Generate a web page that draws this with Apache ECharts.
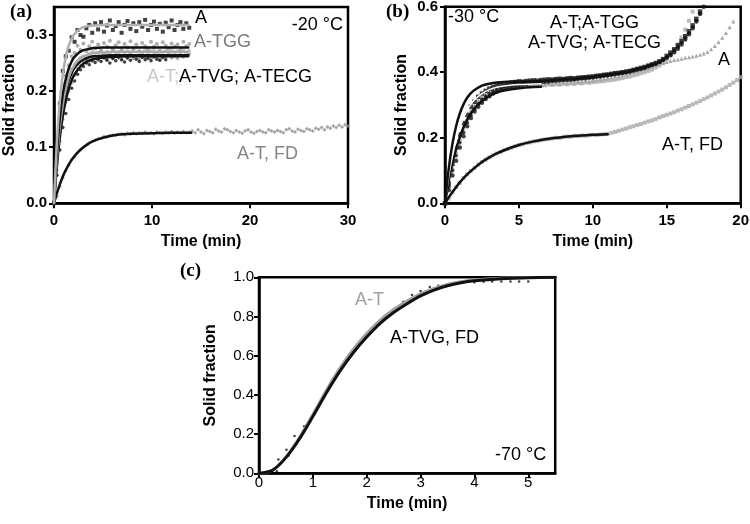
<!DOCTYPE html>
<html><head><meta charset="utf-8">
<script src="https://cdn.jsdelivr.net/npm/echarts@6/dist/echarts.min.js"></script>
<style>html,body{margin:0;padding:0;background:#fff}#c{width:750px;height:524px}</style>
</head><body><div id="c"></div>
<script>
// ---------- Panel (a): -20 °C ----------
const tA = [0,0.3,0.6,0.9,1.2,1.5,1.8,2.1,2.4,2.7,
 3,3.3,3.6,3.9,4.2,4.5,4.8,5.1,5.4,5.7,
 6,6.3,6.6,6.9,7.2,7.5,7.8,8.1,8.4,8.7,
 9,9.3,9.6,9.9,10.2,10.5,10.8,11.1,11.4,11.7,
 12,12.3,12.6,12.9,13.2,13.5,13.8,14.1,14.4,14.7,
 15,15.3,15.6,15.9,16.2,16.5,16.8,17.1,17.4,17.7,
 18,18.3,18.6,18.9,19.2,19.5,19.8,20.1,20.4,20.7,
 21,21.3,21.6,21.9,22.2,22.5,22.8,23.1,23.4,23.7,
 24,24.3,24.6,24.9,25.2,25.5,25.8,26.1,26.4,26.7,
 27,27.3,27.6,27.9,28.2,28.5,28.8,29.1,29.4,29.7,
 30];
const a_A = [0,0.112,0.178,0.236,0.262,0.272,0.296,0.288,0.309,0.300,
 0.297,0.312,0.318,0.304,0.321,0.310,0.323,0.306,0.317,0.326,
 0.309,0.316,0.323,0.304,0.318,0.325,0.311,0.321,0.307,0.323,
 0.315,0.327,0.309,0.318,0.324,0.311,0.320,0.306,0.322,0.314,
 0.326,0.309,0.318,0.323,0.311,0.321,0.313];
const a_TGG = [0,0.085,0.150,0.196,0.228,0.246,0.262,0.268,0.281,0.274,
 0.285,0.271,0.280,0.288,0.276,0.283,0.272,0.286,0.279,0.290,
 0.275,0.282,0.287,0.273,0.284,0.278,0.289,0.276,0.283,0.271,
 0.286,0.280,0.274,0.288,0.279,0.284,0.272,0.287,0.281,0.276,
 0.285,0.279,0.283,0.274,0.288,0.280,0.284];
const a_T = [0,0.070,0.128,0.172,0.205,0.222,0.238,0.247,0.252,0.259,
 0.262,0.258,0.266,0.270,0.262,0.268,0.273,0.264,0.270,0.266,
 0.274,0.263,0.269,0.272,0.265,0.271,0.267,0.275,0.263,0.270,
 0.268,0.273,0.265,0.271,0.276,0.266,0.270,0.264,0.272,0.268,
 0.274,0.266,0.271,0.269,0.275,0.267,0.272];
const a_TVG = [0,0.050,0.095,0.135,0.160,0.185,0.205,0.218,0.230,0.238,
 0.244,0.250,0.247,0.254,0.251,0.257,0.253,0.259,0.255,0.250,
 0.258,0.254,0.261,0.256,0.252,0.259,0.255,0.262,0.257,0.253,
 0.260,0.256,0.258,0.254,0.261,0.257,0.255,0.260,0.256];
const a_TECG = [0,0.060,0.110,0.150,0.180,0.200,0.215,0.228,0.240,0.246,
 0.250,0.256,0.252,0.259,0.262,0.255,0.260,0.264,0.257,0.262,
 0.258,0.265,0.259,0.256,0.263,0.260,0.266,0.258,0.262,0.257,
 0.264,0.260,0.263,0.258,0.265,0.261,0.257,0.264,0.260,0.266,
 0.259,0.262,0.258,0.265,0.261,0.263,0.266];
const a_FD = [0,0.012,0.030,0.045,0.058,0.068,0.078,0.083,0.090,0.096,
 0.100,0.104,0.108,0.110,0.113,0.115,0.116,0.119,0.118,0.121,
 0.122,0.121,0.123,0.124,0.122,0.125,0.124,0.126,0.124,0.126,
 0.125,0.127,0.125,0.126,0.124,0.127,0.126,0.125,0.127,0.126,
 0.128,0.125,0.127,0.126,0.128,0.126,0.127,0.129,0.126,0.131,
 0.127,0.124,0.130,0.128,0.126,0.132,0.129,0.127,0.133,0.131,
 0.128,0.126,0.130,0.127,0.125,0.129,0.131,0.127,0.125,0.128,
 0.130,0.127,0.126,0.131,0.129,0.127,0.130,0.128,0.126,0.131,
 0.133,0.129,0.127,0.132,0.130,0.128,0.133,0.131,0.129,0.134,
 0.132,0.135,0.131,0.136,0.134,0.138,0.135,0.139,0.136,0.140,
 0.138];
const tFitA = [0,0.25,0.5,0.75,1,1.25,1.5,1.75,2,2.5,3,3.5,4,5,6,8,10,12,13.7];
const fitA_A    = [0,0.095,0.162,0.209,0.242,0.265,0.281,0.292,0.300,0.309,0.314,0.316,0.317,0.318,0.318,0.318,0.318,0.318,0.318];
const fitA_TGG  = [0,0.079,0.135,0.176,0.205,0.225,0.240,0.251,0.259,0.268,0.273,0.275,0.277,0.278,0.278,0.278,0.278,0.278,0.278];
const fitA_T    = [0,0.069,0.120,0.158,0.187,0.208,0.224,0.236,0.244,0.256,0.262,0.265,0.268,0.269,0.270,0.270,0.270,0.270,0.270];
const fitA_TVG  = [0,0.058,0.103,0.138,0.166,0.187,0.204,0.217,0.227,0.240,0.249,0.254,0.257,0.260,0.261,0.262,0.262,0.262,0.262];
const fitA_TECG = [0,0.067,0.117,0.155,0.183,0.203,0.219,0.230,0.239,0.250,0.256,0.260,0.262,0.263,0.264,0.264,0.264,0.264,0.264];
const tFitAFD = [0,0.25,0.5,0.75,1,1.5,2,2.5,3,3.5,4,5,6,7,8,10,12,14];
const fitA_FD   = [0,0.0155,0.029,0.041,0.052,0.069,0.082,0.092,0.100,0.106,0.111,0.117,0.121,0.123,0.124,0.125,0.126,0.126];

// ---------- Panel (b): -30 °C ----------
const tB = [0,0.25,0.5,0.75,1,1.25,1.5,1.75,2,2.25,
 2.5,2.75,3,3.25,3.5,3.75,4,4.25,4.5,4.75,
 5,5.25,5.5,5.75,6,6.25,6.5,6.75,7,7.25,
 7.5,7.75,8,8.25,8.5,8.75,9,9.25,9.5,9.75,
 10,10.25,10.5,10.75,11,11.25,11.5,11.75,12,12.25,
 12.5,12.75,13,13.25,13.5,13.75,14,14.25,14.5,14.75,
 15,15.25,15.5,15.75,16,16.25,16.5,16.75,17,17.25,
 17.5,17.75,18,18.25,18.5,18.75,19,19.25,19.5,19.75,
 20];
const b_TGG = [0,0.06,0.12,0.17,0.21,0.245,0.27,0.295,0.31,0.325,
 0.335,0.343,0.35,0.355,0.36,0.362,0.365,0.367,0.369,0.37,
 0.372,0.371,0.373,0.374,0.375,0.374,0.376,0.377,0.378,0.377,
 0.379,0.38,0.379,0.381,0.382,0.381,0.383,0.384,0.385,0.386,
 0.387,0.389,0.39,0.392,0.393,0.395,0.397,0.398,0.40,0.402,
 0.404,0.407,0.41,0.413,0.416,0.42,0.424,0.428,0.433,0.44,
 0.45,0.46,0.47,0.482,0.495,0.51,0.525,0.543,0.563,0.585,
 0.608];
const b_TVG = [0,0.04,0.085,0.13,0.17,0.205,0.235,0.26,0.28,0.295,
 0.307,0.318,0.327,0.335,0.341,0.346,0.35,0.353,0.356,0.358,
 0.36,0.362,0.364,0.366,0.367,0.368,0.37,0.371,0.372,0.373,
 0.374,0.375,0.376,0.376,0.377,0.378,0.38,0.381,0.382,0.383,
 0.384,0.386,0.387,0.389,0.39,0.392,0.394,0.396,0.398,0.40,
 0.402,0.405,0.408,0.411,0.414,0.418,0.422,0.426,0.431,0.437,
 0.444,0.452,0.461,0.472,0.485,0.50,0.516,0.534,0.555,0.578,
 0.60];
const b_TECG = [0,0.05,0.10,0.145,0.185,0.215,0.245,0.268,0.288,0.303,
 0.317,0.327,0.336,0.343,0.349,0.354,0.357,0.36,0.362,0.364,
 0.366,0.367,0.369,0.37,0.371,0.372,0.373,0.374,0.375,0.376,
 0.377,0.378,0.378,0.379,0.38,0.381,0.382,0.383,0.384,0.385,
 0.386,0.388,0.389,0.391,0.392,0.394,0.396,0.397,0.399,0.401,
 0.403,0.406,0.409,0.412,0.415,0.419,0.423,0.427,0.432,0.438,
 0.447,0.456,0.466,0.477,0.49,0.505,0.52,0.538,0.558,0.58,
 0.603];
const b_T = [0,0.05,0.10,0.15,0.19,0.22,0.25,0.275,0.29,0.305,
 0.315,0.325,0.333,0.34,0.345,0.349,0.352,0.355,0.357,0.358,
 0.36,0.359,0.361,0.36,0.362,0.358,0.361,0.36,0.363,0.361,
 0.363,0.362,0.365,0.363,0.366,0.364,0.367,0.366,0.369,0.368,
 0.37,0.371,0.372,0.373,0.375,0.376,0.378,0.38,0.382,0.385,
 0.387,0.39,0.393,0.397,0.40,0.404,0.408,0.414,0.42,0.427,
 0.44,0.452,0.467,0.485,0.506,0.53,0.557,0.585,0.612];
const b_A = [0,0.055,0.11,0.16,0.20,0.235,0.26,0.285,0.30,0.315,
 0.325,0.333,0.34,0.345,0.35,0.353,0.356,0.358,0.36,0.361,
 0.362,0.361,0.363,0.362,0.364,0.362,0.365,0.363,0.366,0.364,
 0.367,0.365,0.368,0.366,0.369,0.368,0.371,0.37,0.373,0.372,
 0.375,0.376,0.378,0.38,0.381,0.383,0.386,0.388,0.391,0.394,
 0.397,0.40,0.404,0.407,0.41,0.414,0.418,0.422,0.425,0.428,
 0.431,0.434,0.437,0.439,0.441,0.444,0.446,0.448,0.45,0.453,
 0.457,0.462,0.47,0.48,0.492,0.505,0.52,0.537,0.555];
const b_FD = [0,0.015,0.035,0.05,0.062,0.077,0.088,0.099,0.108,0.118,
 0.126,0.133,0.140,0.146,0.152,0.157,0.162,0.166,0.170,0.174,
 0.178,0.180,0.184,0.186,0.189,0.190,0.193,0.195,0.196,0.198,
 0.200,0.199,0.202,0.204,0.203,0.206,0.205,0.207,0.206,0.208,
 0.209,0.208,0.210,0.211,0.212,0.215,0.218,0.221,0.225,0.228,
 0.232,0.235,0.239,0.242,0.246,0.250,0.253,0.257,0.262,0.266,
 0.270,0.274,0.278,0.283,0.287,0.292,0.297,0.302,0.307,0.312,
 0.318,0.323,0.329,0.335,0.341,0.347,0.354,0.361,0.368,0.376,
 0.385];
const tFitB = [0,0.25,0.5,0.75,1,1.25,1.5,1.75,2,2.5,3,3.5,4,5,6,6.5];
const fitB_1 = [0,0.105,0.181,0.235,0.274,0.302,0.322,0.336,0.346,0.359,0.365,0.3685,0.370,0.3715,0.372,0.372];
const fitB_2 = [0,0.081,0.144,0.193,0.231,0.260,0.284,0.302,0.316,0.335,0.347,0.354,0.358,0.3625,0.364,0.365];
const fitB_3 = [0,0.067,0.122,0.166,0.202,0.231,0.255,0.274,0.290,0.312,0.328,0.338,0.344,0.351,0.355,0.3555];
const tFitBFD = [0,0.25,0.5,0.75,1,1.5,2,2.5,3,3.5,4,5,6,7,8,9,10,11];
const fitB_FD = [0,0.018,0.034,0.049,0.064,0.088,0.108,0.126,0.140,0.152,0.162,0.178,0.189,0.197,0.202,0.206,0.209,0.2105];

// ---------- Panel (c): -70 °C ----------
const tC = [0,0.25,0.5,0.75,1,1.25,1.5,1.75,2,2.25,2.5,2.75,3,3.25,3.5,3.75,4,4.5,5,5.5];
const c_TVG = [0,0.015,0.08,0.175,0.29,0.41,0.52,0.615,0.695,0.765,0.82,0.865,0.905,0.935,0.957,0.972,0.982,0.993,0.998,1.0];
const c_T   = [0,0.016,0.083,0.182,0.30,0.422,0.535,0.632,0.713,0.782,0.836,0.879,0.915,0.943,0.963,0.977,0.986,0.995,0.999,1.0];
const tCdots = [0.33,0.36,0.51,0.55,0.66,0.69,0.84,2.33,2.52,2.68,2.84,3.0,3.17,3.33,3.5,4.0,4.17,4.33,4.5,4.67,4.83,5.0];
const c_dots = [0.01,0.07,0.12,0.09,0.19,0.15,0.24,0.80,0.84,0.875,0.91,0.93,0.95,0.957,0.965,0.975,0.977,0.978,0.978,0.978,0.978,0.978];

// tick labels
const ticksAy = [0,0.1,0.2,0.3];
const ticksCx = [0,1,2,3,4,5];

const F = "'Liberation Sans', Arial, Helvetica, sans-serif";
const zip = (t, v) => v.map((y, i) => [t[i], y]);
const BLACK = '#111', GRAY = '#8e8e8e', LGRAY = '#bdbdbd';

function sc(gi, t, v, sym, color, size, z) {
  return {type:'scatter', xAxisIndex:gi, yAxisIndex:gi, data:zip(t,v), symbol:sym, symbolSize:size,
    itemStyle:{color:color}, silent:true, z:z, animation:false};
}
function ln(gi, t, v, color, w, z) {
  return {type:'line', xAxisIndex:gi, yAxisIndex:gi, data:zip(t,v), showSymbol:false, symbol:'none',
    smooth:0.3, lineStyle:{color:color, width:w, cap:'round', join:'round'}, silent:true, z:z, animation:false};
}
function xAx(gi, min, max, interval, bold, margin, gap, custom) {
  const a = {gridIndex:gi, type:'value', min:min, max:max, interval:interval,
    axisLine:{show:true, onZero:false, lineStyle:{color:'#000', width:2.5}},
    axisTick:{show:true, length:5, lineStyle:{color:'#000', width:2}},
    axisLabel:{color:'#000', fontSize:15, fontFamily:F, fontWeight:bold?'bold':'normal', margin:margin},
    splitLine:{show:false},
    name:'Time (min)', nameLocation:'middle', nameGap:gap, nameMoveOverlap:false,
    nameTextStyle:{color:'#000', fontSize:16, fontWeight:'bold', fontFamily:F}};
  if (custom) { a.axisLabel.customValues = custom; a.axisTick.customValues = custom; }
  return a;
}
function yAx(gi, min, max, interval, bold, margin, gap, custom) {
  const a = {gridIndex:gi, type:'value', min:min, max:max, interval:interval,
    axisLine:{show:true, onZero:false, lineStyle:{color:'#000', width:2.5}},
    axisTick:{show:true, length:5, lineStyle:{color:'#000', width:2}},
    axisLabel:{color:'#000', fontSize:15, fontFamily:F, fontWeight:bold?'bold':'normal', margin:margin,
      formatter:v=>v.toFixed(1)},
    splitLine:{show:false},
    name:'Solid fraction', nameLocation:'middle', nameGap:gap, nameMoveOverlap:false,
    nameTextStyle:{color:'#000', fontSize:16, fontWeight:'bold', fontFamily:F}};
  if (custom) { a.axisLabel.customValues = custom; a.axisTick.customValues = custom; }
  return a;
}
const gridStyle = {show:true, borderColor:'#000', borderWidth:2.5, backgroundColor:'transparent', containLabel:false, outerBoundsMode:'none'};

function txt(x, y, text, color, size, align, family, weight) {
  return {type:'text', x:x, y:y, silent:true, z:100, style:{text:text, fill:color,
    font:(weight||'normal')+' '+size+'px '+(family||F), align:align||'left', verticalAlign:'middle'}};
}

const chart = echarts.init(document.getElementById('c'), null, {renderer:'canvas'});
chart.setOption({
  animation:false,
  backgroundColor:'#fff',
  grid:[
    Object.assign({left:54, right:402, top:7, bottom:320.7}, gridStyle),
    Object.assign({left:445, right:9.3, top:6.7, bottom:320.7}, gridStyle),
    Object.assign({left:259, right:194.8, top:277.3, bottom:50.7}, gridStyle)
  ],
  xAxis:[
    xAx(0, 0, 30, 10, true, 10, 30),
    xAx(1, 0, 20, 5, true, 10, 30),
    xAx(2, 0, 5.5, 1, false, 2, 22, ticksCx)
  ],
  yAxis:[
    yAx(0, 0, 0.35, 0.1, true, 7, 36, ticksAy),
    yAx(1, 0, 0.6, 0.2, true, 7, 35),
    yAx(2, 0, 1.0, 0.2, false, 5, 40)
  ],
  series:[
    // (a) data
    sc(0, tA, a_FD, 'diamond', GRAY, 4, 2),
    sc(0, tA, a_TECG, 'diamond', GRAY, 4, 2),
    sc(0, tA, a_T, 'circle', LGRAY, 4, 2),
    sc(0, tA, a_TGG, 'circle', '#9a9a9a', 4, 2),
    sc(0, tA, a_TVG, 'circle', BLACK, 3.5, 2),
    sc(0, tA, a_A, 'rect', BLACK, 4, 2),
    // (a) fits
    ln(0, tFitAFD, fitA_FD, BLACK, 2.5, 5),
    ln(0, tFitA, fitA_TVG, BLACK, 2.5, 5),
    ln(0, tFitA, fitA_TECG, BLACK, 2.5, 5),
    ln(0, tFitA, fitA_T, '#a8a8a8', 2.5, 5),
    ln(0, tFitA, fitA_TGG, BLACK, 2.5, 5),
    ln(0, tFitA, fitA_A, '#b0b0b0', 2.5, 5),
    // (b) data
    sc(1, tB, b_FD, 'rect', '#a9a9a9', 4, 2),
    sc(1, tB, b_A, 'triangle', '#909090', 4, 2),
    sc(1, tB, b_T, 'rect', '#a9a9a9', 4, 2),
    sc(1, tB, b_TECG, 'diamond', BLACK, 4.5, 3),
    sc(1, tB, b_TVG, 'circle', BLACK, 4.5, 3),
    sc(1, tB, b_TGG, 'rect', BLACK, 4.5, 3),
    // (b) fits
    ln(1, tFitB, fitB_3, BLACK, 2.5, 5),
    ln(1, tFitB, fitB_2, '#ffffff', 1.5, 5),
    ln(1, tFitB, fitB_1, BLACK, 2.5, 5),
    ln(1, tFitBFD, fitB_FD, BLACK, 2.5, 5),
    // (c)
    sc(2, tCdots, c_dots, 'circle', BLACK, 2.5, 2),
    ln(2, tC, c_T, '#a0a0a0', 3, 4),
    ln(2, tC, c_TVG, BLACK, 3, 5)
  ],
  graphic:[
    txt(10, 12.5, '(a)', '#000', 19, 'left', "'Liberation Serif', 'Times New Roman', serif", 'bold'),
    txt(386, 12.5, '(b)', '#000', 19, 'left', "'Liberation Serif', 'Times New Roman', serif", 'bold'),
    txt(180, 271, '(c)', '#000', 19, 'left', "'Liberation Serif', 'Times New Roman', serif", 'bold'),
    // (a)
    txt(195, 18, 'A', '#000', 18),
    txt(194, 42, 'A-TGG', '#7a7a7a', 18),
    {type:'text', x:147, y:77, silent:true, z:100, style:{text:'{l|A-T;}{d|A-TVG; A-TECG}', align:'left', verticalAlign:'middle',
      font:'18px '+F, rich:{l:{fill:'#c8c8c8', fontSize:18, fontFamily:F}, d:{fill:'#000', fontSize:18, fontFamily:F}}}},
    txt(237, 154, 'A-T, FD', '#858585', 18),
    txt(343, 25, '-20 °C', '#000', 18, 'right'),
    // (b)
    txt(448, 17, '-30 °C', '#000', 18),
    txt(550, 23, 'A-T;A-TGG', '#000', 18),
    txt(528, 43, 'A-TVG; A-TECG', '#000', 18),
    txt(718, 60, 'A', '#000', 18),
    txt(662, 145, 'A-T, FD', '#000', 18),
    // (c)
    txt(355, 300, 'A-T', '#a0a0a0', 18),
    txt(390, 338, 'A-TVG, FD', '#000', 18),
    txt(495, 455, '-70 °C', '#000', 18)
  ]
});
</script></body></html>
